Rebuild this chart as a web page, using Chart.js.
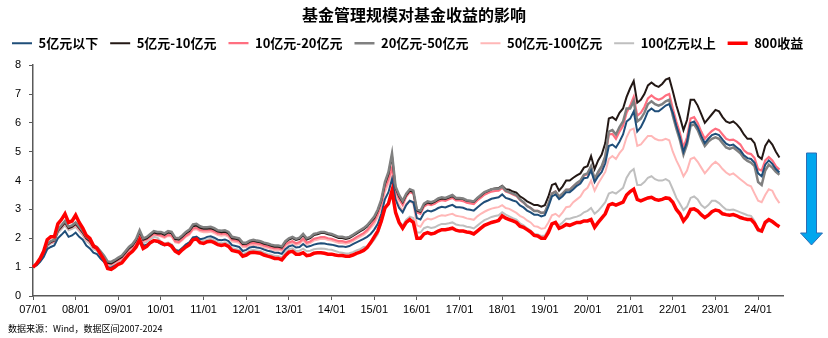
<!DOCTYPE html>
<html>
<head>
<meta charset="utf-8">
<script src="https://cdn.jsdelivr.net/npm/chart.js@4.4.1/dist/chart.umd.min.js"></script>
<style>
  html, body { margin: 0; padding: 0; background: #ffffff; }
  #wrap { width: 828px; height: 338px; position: relative; }
</style>
</head>
<body>
<div id="wrap"><canvas id="chart"></canvas></div>
<script>
// Monthly categories, 2007/01 .. 2024/08 (last month left open on the axis)
const monthLabels = [];
for (let y = 2007; y <= 2024; y++) {
  for (let m = 1; m <= 12; m++) {
    if (y === 2024 && m > 8) break;
    monthLabels.push(String(y % 100).padStart(2, '0') + '/' + String(m).padStart(2, '0'));
  }
}

// Net value by fund size bucket (month-end, start = 1), one row per year
const fundUnder5 = [
  1.00, 1.06, 1.18, 1.35, 1.62, 1.70, 1.75, 2.00, 2.12, 2.25, 2.05, 2.10,
  2.20, 2.05, 1.95, 1.75, 1.65, 1.50, 1.45, 1.30, 1.18, 1.00, 0.98, 1.05,
  1.10, 1.17, 1.32, 1.46, 1.56, 1.72, 1.98, 1.74, 1.78, 1.86, 1.92, 1.88,
  1.80, 1.76, 1.80, 1.76, 1.60, 1.56, 1.66, 1.78, 1.86, 2.03, 2.05, 1.97,
  1.99, 2.05, 2.07, 2.02, 1.95, 1.93, 1.96, 1.90, 1.76, 1.73, 1.70, 1.56,
  1.60, 1.68, 1.71, 1.68, 1.66, 1.61, 1.57, 1.54, 1.50, 1.50, 1.46, 1.62,
  1.72, 1.76, 1.68, 1.70, 1.80, 1.70, 1.73, 1.78, 1.81, 1.83, 1.82, 1.79,
  1.78, 1.75, 1.72, 1.72, 1.70, 1.73, 1.80, 1.86, 1.92, 1.98, 2.05, 2.15,
  2.30, 2.50, 2.85, 3.35, 3.60, 4.05, 3.35, 3.05, 2.90, 3.15, 3.30, 3.25,
  2.70, 2.65, 2.88, 2.96, 2.93, 2.98, 3.05, 3.09, 3.07, 3.12, 3.16, 3.08,
  3.08, 3.06, 3.01, 2.99, 2.96, 3.07, 3.17, 3.26, 3.31, 3.37, 3.40, 3.42,
  3.52, 3.40, 3.36, 3.31, 3.27, 3.14, 3.07, 2.96, 2.90, 2.82, 2.82, 2.76,
  2.80, 3.10, 3.45, 3.52, 3.36, 3.46, 3.60, 3.60, 3.70, 3.82, 3.90, 4.08,
  4.10, 4.35, 3.95, 4.15, 4.30, 4.60, 5.20, 5.25, 5.15, 5.35, 5.60, 6.05,
  6.15, 6.40, 5.70, 5.85, 6.10, 6.40, 6.50, 6.40, 6.40, 6.50, 6.60, 6.65,
  6.35, 5.90, 5.50, 5.00, 5.35, 6.00, 6.05, 5.85, 5.55, 5.30, 5.45, 5.58,
  5.62, 5.58, 5.42, 5.28, 5.22, 5.25, 5.15, 5.05, 4.88, 4.78, 4.75, 4.62,
  4.25, 4.15, 4.55, 4.70, 4.58, 4.40, 4.28
];
const fund5to10 = [
  1.00, 1.09, 1.24, 1.43, 1.77, 1.87, 1.92, 2.26, 2.40, 2.55, 2.35, 2.40,
  2.50, 2.35, 2.20, 2.00, 1.90, 1.70, 1.65, 1.50, 1.35, 1.15, 1.13, 1.20,
  1.28, 1.35, 1.50, 1.65, 1.75, 1.93, 2.22, 1.95, 2.00, 2.10, 2.20, 2.17,
  2.17, 2.12, 2.20, 2.17, 1.97, 1.95, 2.05, 2.17, 2.25, 2.42, 2.44, 2.36,
  2.33, 2.33, 2.35, 2.30, 2.23, 2.21, 2.23, 2.17, 2.00, 1.98, 1.95, 1.80,
  1.81, 1.88, 1.91, 1.88, 1.86, 1.81, 1.78, 1.74, 1.71, 1.71, 1.68, 1.86,
  1.96, 2.01, 1.94, 1.98, 2.11, 1.96, 2.01, 2.11, 2.14, 2.18, 2.18, 2.14,
  2.11, 2.06, 2.01, 2.01, 1.98, 2.01, 2.08, 2.16, 2.24, 2.31, 2.41, 2.56,
  2.70, 2.95, 3.30, 3.88, 4.22, 4.85, 3.74, 3.45, 3.25, 3.50, 3.65, 3.60,
  2.96, 2.91, 3.16, 3.24, 3.21, 3.26, 3.34, 3.38, 3.36, 3.41, 3.46, 3.37,
  3.38, 3.36, 3.30, 3.28, 3.26, 3.38, 3.48, 3.58, 3.64, 3.70, 3.73, 3.74,
  3.82, 3.70, 3.68, 3.62, 3.58, 3.45, 3.38, 3.28, 3.22, 3.15, 3.15, 3.10,
  3.15, 3.45, 3.85, 3.90, 3.65, 3.80, 4.00, 4.00, 4.10, 4.18, 4.25, 4.45,
  4.50, 4.85, 4.40, 4.70, 4.90, 5.30, 6.15, 6.20, 6.10, 6.35, 6.50, 6.90,
  7.20, 7.45, 6.70, 6.80, 7.00, 7.30, 7.40, 7.30, 7.25, 7.35, 7.50, 7.55,
  7.10, 6.60, 6.20, 5.75, 6.10, 6.80, 6.80, 6.60, 6.30, 6.00, 6.15, 6.30,
  6.45, 6.40, 6.20, 6.05, 6.00, 6.05, 5.95, 5.80, 5.60, 5.45, 5.45, 5.30,
  4.85, 4.75, 5.20, 5.40, 5.25, 5.00, 4.80
];
const fund10to20 = [
  1.00, 1.09, 1.23, 1.42, 1.75, 1.85, 1.90, 2.25, 2.40, 2.55, 2.35, 2.40,
  2.48, 2.33, 2.18, 1.98, 1.88, 1.68, 1.63, 1.48, 1.33, 1.12, 1.10, 1.18,
  1.25, 1.32, 1.47, 1.62, 1.72, 1.90, 2.18, 1.92, 1.97, 2.06, 2.15, 2.12,
  2.10, 2.05, 2.12, 2.10, 1.90, 1.87, 1.97, 2.09, 2.17, 2.34, 2.36, 2.29,
  2.27, 2.27, 2.29, 2.24, 2.17, 2.15, 2.17, 2.11, 1.95, 1.93, 1.90, 1.76,
  1.75, 1.82, 1.84, 1.82, 1.80, 1.75, 1.72, 1.68, 1.65, 1.65, 1.62, 1.79,
  1.86, 1.90, 1.83, 1.87, 1.99, 1.85, 1.89, 1.98, 2.01, 2.04, 2.04, 2.00,
  1.98, 1.94, 1.90, 1.90, 1.87, 1.90, 1.96, 2.04, 2.11, 2.18, 2.28, 2.43,
  2.60, 2.85, 3.20, 3.75, 4.05, 4.45, 3.65, 3.35, 3.15, 3.45, 3.60, 3.55,
  2.90, 2.85, 3.10, 3.18, 3.15, 3.20, 3.28, 3.32, 3.30, 3.35, 3.40, 3.31,
  3.31, 3.29, 3.23, 3.21, 3.19, 3.31, 3.41, 3.51, 3.57, 3.62, 3.64, 3.65,
  3.75, 3.62, 3.58, 3.52, 3.47, 3.33, 3.24, 3.12, 3.05, 2.95, 2.95, 2.88,
  2.88, 3.18, 3.55, 3.62, 3.44, 3.55, 3.68, 3.69, 3.80, 3.90, 3.98, 4.18,
  4.22, 4.47, 4.02, 4.27, 4.47, 4.80, 5.60, 5.62, 5.45, 5.70, 5.90, 6.35,
  6.60, 6.90, 6.25, 6.35, 6.55, 6.85, 6.95, 6.85, 6.80, 6.85, 6.95, 7.00,
  6.50, 6.05, 5.65, 5.15, 5.50, 6.15, 6.20, 6.00, 5.70, 5.45, 5.60, 5.72,
  5.80, 5.75, 5.60, 5.45, 5.40, 5.42, 5.35, 5.25, 5.05, 4.95, 4.92, 4.78,
  4.40, 4.35, 4.70, 4.82, 4.70, 4.50, 4.38
];
const fund20to50 = [
  1.00, 1.10, 1.25, 1.45, 1.80, 1.90, 1.95, 2.30, 2.45, 2.60, 2.40, 2.45,
  2.55, 2.40, 2.25, 2.05, 1.95, 1.75, 1.70, 1.55, 1.40, 1.20, 1.18, 1.25,
  1.33, 1.40, 1.55, 1.70, 1.80, 1.98, 2.28, 2.00, 2.05, 2.15, 2.25, 2.22,
  2.22, 2.17, 2.25, 2.22, 2.02, 2.00, 2.10, 2.22, 2.30, 2.48, 2.50, 2.42,
  2.38, 2.38, 2.40, 2.35, 2.28, 2.26, 2.28, 2.22, 2.05, 2.03, 2.00, 1.85,
  1.85, 1.92, 1.95, 1.92, 1.90, 1.85, 1.82, 1.78, 1.75, 1.75, 1.72, 1.90,
  2.00, 2.05, 1.98, 2.02, 2.15, 2.00, 2.05, 2.15, 2.18, 2.22, 2.22, 2.18,
  2.15, 2.10, 2.05, 2.05, 2.02, 2.05, 2.12, 2.20, 2.28, 2.35, 2.45, 2.60,
  2.75, 3.00, 3.35, 3.95, 4.30, 4.95, 3.80, 3.50, 3.30, 3.55, 3.70, 3.65,
  3.00, 2.95, 3.20, 3.28, 3.25, 3.30, 3.38, 3.42, 3.40, 3.45, 3.50, 3.40,
  3.40, 3.38, 3.32, 3.30, 3.28, 3.40, 3.50, 3.60, 3.65, 3.70, 3.72, 3.72,
  3.80, 3.65, 3.60, 3.55, 3.50, 3.35, 3.25, 3.12, 3.05, 2.95, 2.95, 2.88,
  2.90, 3.20, 3.55, 3.62, 3.45, 3.55, 3.68, 3.68, 3.80, 3.92, 4.00, 4.20,
  4.25, 4.50, 4.05, 4.30, 4.50, 4.85, 5.70, 5.75, 5.60, 5.85, 6.05, 6.50,
  6.50, 6.75, 6.05, 6.15, 6.35, 6.65, 6.75, 6.65, 6.60, 6.65, 6.75, 6.80,
  6.25, 5.80, 5.40, 4.90, 5.25, 5.90, 5.95, 5.75, 5.45, 5.20, 5.35, 5.45,
  5.50, 5.45, 5.30, 5.15, 5.10, 5.15, 5.05, 4.95, 4.78, 4.68, 4.62, 4.50,
  3.95, 3.85, 4.35, 4.55, 4.45, 4.30, 4.20
];
const fund50to100 = [
  1.00, 1.09, 1.23, 1.42, 1.76, 1.86, 1.90, 2.24, 2.38, 2.52, 2.33, 2.38,
  2.45, 2.30, 2.15, 1.95, 1.85, 1.66, 1.61, 1.46, 1.31, 1.10, 1.08, 1.16,
  1.23, 1.30, 1.45, 1.60, 1.70, 1.88, 2.15, 1.90, 1.95, 2.03, 2.12, 2.10,
  2.06, 2.01, 2.08, 2.06, 1.86, 1.83, 1.93, 2.05, 2.12, 2.29, 2.31, 2.24,
  2.21, 2.21, 2.23, 2.18, 2.11, 2.09, 2.11, 2.05, 1.89, 1.87, 1.84, 1.70,
  1.69, 1.76, 1.78, 1.76, 1.74, 1.69, 1.66, 1.62, 1.59, 1.59, 1.56, 1.72,
  1.80, 1.84, 1.77, 1.81, 1.93, 1.79, 1.83, 1.92, 1.95, 1.98, 1.98, 1.94,
  1.92, 1.88, 1.84, 1.84, 1.81, 1.84, 1.90, 1.98, 2.05, 2.12, 2.22, 2.36,
  2.50, 2.75, 3.10, 3.60, 3.90, 4.25, 3.45, 3.15, 2.95, 3.20, 3.30, 3.20,
  2.45, 2.40, 2.60, 2.68, 2.65, 2.70, 2.76, 2.80, 2.78, 2.82, 2.85, 2.78,
  2.76, 2.74, 2.69, 2.67, 2.64, 2.76, 2.85, 2.92, 2.98, 3.03, 3.06, 3.08,
  3.15, 3.05, 3.02, 2.95, 2.88, 2.78, 2.72, 2.62, 2.55, 2.42, 2.40, 2.33,
  2.35, 2.55, 2.80, 2.85, 2.75, 2.90, 3.08, 3.10, 3.25, 3.35, 3.45, 3.65,
  3.75, 4.00, 3.65, 3.90, 4.10, 4.30, 4.75, 4.85, 4.75, 4.95, 5.10, 5.50,
  5.75, 5.80, 5.20, 5.25, 5.40, 5.55, 5.55, 5.45, 5.40, 5.40, 5.45, 5.40,
  5.00, 4.70, 4.45, 4.15, 4.35, 4.75, 4.80, 4.65, 4.45, 4.25, 4.40, 4.55,
  4.65, 4.55, 4.40, 4.28, 4.20, 4.25, 4.15, 4.05, 3.95, 3.85, 3.80, 3.55,
  3.30, 3.25, 3.50, 3.70, 3.65, 3.40, 3.22
];
const fundOver100 = [
  1.00, 1.08, 1.22, 1.40, 1.72, 1.82, 1.86, 2.18, 2.32, 2.45, 2.28, 2.33,
  2.40, 2.25, 2.10, 1.90, 1.80, 1.62, 1.57, 1.42, 1.28, 1.07, 1.05, 1.12,
  1.18, 1.25, 1.40, 1.55, 1.65, 1.82, 2.08, 1.83, 1.88, 1.97, 2.05, 2.02,
  1.88, 1.82, 1.85, 1.79, 1.62, 1.56, 1.68, 1.78, 1.86, 2.03, 2.06, 1.94,
  1.90, 1.96, 1.98, 1.93, 1.86, 1.83, 1.86, 1.80, 1.66, 1.63, 1.60, 1.46,
  1.50, 1.58, 1.60, 1.58, 1.56, 1.50, 1.46, 1.43, 1.39, 1.39, 1.34, 1.50,
  1.62, 1.65, 1.56, 1.57, 1.64, 1.55, 1.57, 1.62, 1.64, 1.65, 1.64, 1.61,
  1.60, 1.56, 1.52, 1.50, 1.47, 1.48, 1.52, 1.58, 1.62, 1.70, 1.72, 1.80,
  1.95, 2.15, 2.55, 3.00, 3.20, 3.55, 2.85, 2.55, 2.45, 2.65, 2.75, 2.70,
  2.20, 2.20, 2.35, 2.40, 2.36, 2.38, 2.45, 2.50, 2.50, 2.52, 2.55, 2.48,
  2.45, 2.44, 2.40, 2.38, 2.34, 2.44, 2.54, 2.63, 2.68, 2.74, 2.77, 2.80,
  2.90, 2.82, 2.76, 2.70, 2.65, 2.52, 2.45, 2.35, 2.27, 2.16, 2.13, 2.08,
  2.10, 2.30, 2.48, 2.55, 2.45, 2.55, 2.68, 2.68, 2.72, 2.75, 2.80, 2.90,
  2.95, 3.05, 2.85, 2.95, 3.10, 3.25, 3.55, 3.60, 3.55, 3.65, 3.75, 4.10,
  4.30, 4.40, 3.85, 3.85, 3.95, 4.10, 4.15, 4.05, 4.00, 4.00, 4.05, 3.98,
  3.70, 3.40, 3.20, 2.98, 3.10, 3.40, 3.45, 3.35, 3.15, 3.05, 3.15, 3.30,
  3.30, 3.22, 3.10, 3.00, 2.98, 3.00, 2.95, 2.90, 2.85, 2.80, 2.78, 2.60,
  2.25, 2.22, 2.50, 2.60, 2.55, 2.48, 2.42
];
// CSI 800 index rebased to 1
const csi800 = [
  1.00, 1.12, 1.30, 1.55, 1.95, 2.05, 2.05, 2.50, 2.65, 2.85, 2.55, 2.60,
  2.80, 2.55, 2.35, 2.10, 2.00, 1.75, 1.65, 1.45, 1.25, 0.95, 0.92, 1.00,
  1.10, 1.15, 1.30, 1.45, 1.55, 1.70, 1.95, 1.65, 1.72, 1.85, 1.92, 1.90,
  1.85, 1.78, 1.80, 1.72, 1.55, 1.48, 1.60, 1.70, 1.78, 1.95, 1.98, 1.85,
  1.82, 1.88, 1.90, 1.85, 1.78, 1.75, 1.78, 1.72, 1.58, 1.55, 1.52, 1.38,
  1.42, 1.50, 1.52, 1.50, 1.48, 1.42, 1.38, 1.35, 1.30, 1.30, 1.25, 1.40,
  1.52, 1.55, 1.45, 1.45, 1.50, 1.40, 1.42, 1.48, 1.50, 1.50, 1.48, 1.45,
  1.45, 1.42, 1.40, 1.40, 1.38, 1.38, 1.42, 1.48, 1.52, 1.58, 1.68, 1.85,
  2.05, 2.25, 2.60, 3.05, 3.20, 3.65, 2.90, 2.55, 2.35, 2.55, 2.65, 2.55,
  2.00, 2.00, 2.15, 2.20, 2.15, 2.18, 2.25, 2.30, 2.30, 2.32, 2.35, 2.28,
  2.25, 2.25, 2.22, 2.20, 2.15, 2.25, 2.35, 2.45, 2.50, 2.55, 2.58, 2.62,
  2.78, 2.70, 2.65, 2.60, 2.55, 2.42, 2.38, 2.30, 2.22, 2.10, 2.08, 2.00,
  2.00, 2.20, 2.50, 2.55, 2.35, 2.40, 2.48, 2.45, 2.50, 2.55, 2.55, 2.60,
  2.60, 2.65, 2.38, 2.55, 2.70, 2.85, 3.15, 3.20, 3.15, 3.20, 3.25, 3.50,
  3.62, 3.70, 3.35, 3.30, 3.35, 3.40, 3.42, 3.35, 3.32, 3.35, 3.40, 3.38,
  3.25, 3.00, 2.85, 2.60, 2.75, 3.00, 3.02, 2.95, 2.82, 2.72, 2.80, 2.92,
  2.98, 2.95, 2.85, 2.82, 2.80, 2.82, 2.78, 2.72, 2.68, 2.65, 2.65, 2.52,
  2.30, 2.25, 2.55, 2.65, 2.58, 2.48, 2.40
];

const yTicks = [0, 1, 2, 3, 4, 5, 6, 7, 8];
const seriesNames = ['5亿元以下', '5亿元-10亿元', '10亿元-20亿元', '20亿元-50亿元', '50亿元-100亿元', '100亿元以上', '800收益'];
const chartTitle = '基金管理规模对基金收益的影响';
const sourceNote = '数据来源：Wind，数据区间2007-2024';

const CJK = '"Noto Sans CJK SC", "Noto Sans", sans-serif';
const AXIS = '#595959';

function line(label, data, color, width, order) {
  return {
    label, data, borderColor: color, backgroundColor: color,
    borderWidth: width, pointRadius: 0, pointHoverRadius: 0,
    tension: 0, fill: false, order, xAxisID: 'x', yAxisID: 'y'
  };
}

// Source note and the blue "down" arrow at the right side
const extras = {
  id: 'extras',
  afterDraw(chart) {
    const ctx = chart.ctx;
    const ca = chart.chartArea;
    ctx.save();
    ctx.font = '9px ' + CJK;
    ctx.fillStyle = '#000';
    ctx.textBaseline = 'middle';
    ctx.textAlign = 'left';
    ctx.fillText(sourceNote, 8, 329);

    const cx = ca.right + 28.5;
    ctx.beginPath();
    ctx.moveTo(cx - 5, 153);
    ctx.lineTo(cx + 5, 153);
    ctx.lineTo(cx + 5, 233);
    ctx.lineTo(cx + 11, 233);
    ctx.lineTo(cx, 245);
    ctx.lineTo(cx - 11, 233);
    ctx.lineTo(cx - 5, 233);
    ctx.closePath();
    ctx.fillStyle = '#00A6EE';
    ctx.fill();
    ctx.lineWidth = 1;
    ctx.strokeStyle = '#2E6DB4';
    ctx.stroke();
    ctx.restore();
  }
};

new Chart(document.getElementById('chart'), {
  type: 'line',
  data: {
    labels: monthLabels,
    datasets: [
      line(seriesNames[0], fundUnder5, '#1F4E79', 2, 1),
      line(seriesNames[1], fund5to10, '#231815', 2, 3),
      line(seriesNames[2], fund10to20, '#FF6F80', 2.2, 4),
      line(seriesNames[3], fund20to50, '#808080', 2.5, 2),
      line(seriesNames[4], fund50to100, '#FFB7B7', 2, 5),
      line(seriesNames[5], fundOver100, '#BFBFBF', 2, 6),
      line(seriesNames[6], csi800, '#FF0000', 3.5, 0)
    ]
  },
  options: {
    responsive: true,
    maintainAspectRatio: false,
    animation: false,
    events: [],
    layout: { padding: { left: 0, right: 0, top: 0, bottom: 20 } },
    plugins: {
      title: {
        display: true,
        text: chartTitle,
        color: '#000',
        font: { family: CJK, size: 16, weight: 'bold' },
        padding: { top: 5.5, bottom: 0 }
      },
      legend: {
        display: true,
        align: 'start',
        labels: {
          usePointStyle: true,
          pointStyle: 'line',
          pointStyleWidth: 20,
          padding: 12,
          color: '#000',
          font: { family: CJK, size: 13, weight: 'bold' },
          sort: (a, b) => a.datasetIndex - b.datasetIndex
        }
      },
      tooltip: { enabled: false }
    },
    scales: {
      x: {
        type: 'category',
        offset: false,
        border: { display: true, color: AXIS, width: 1.5 },
        grid: { display: true, drawOnChartArea: false, drawTicks: true, tickLength: 4, color: AXIS, lineWidth: 1 },
        ticks: {
          autoSkip: false,
          maxRotation: 0,
          minRotation: 0,
          padding: 3,
          color: '#000',
          font: { family: '"Liberation Sans", Arial, sans-serif', size: 11 },
          callback(value) {
            const l = this.getLabelForValue(value);
            return l.endsWith('/01') ? l : null;
          }
        },
        afterFit(s) { s.height = 22; }
      },
      xTop: {
        type: 'linear',
        position: 'top',
        display: true,
        grid: { display: false },
        border: { display: false },
        ticks: { display: false },
        afterFit(s) { s.height = 5.5; }
      },
      y: {
        type: 'linear',
        min: 0,
        max: 8,
        afterBuildTicks(s) { s.ticks = yTicks.map(v => ({ value: v })); },
        border: { display: true, color: AXIS, width: 1.5 },
        grid: { display: true, drawOnChartArea: false, drawTicks: true, tickLength: 4, color: AXIS },
        ticks: {
          padding: 8,
          color: '#000',
          font: { family: '"Liberation Sans", Arial, sans-serif', size: 11 }
        },
        afterFit(s) { s.width = 33; }
      },
      yRight: {
        type: 'linear',
        position: 'right',
        display: true,
        grid: { display: false },
        border: { display: false },
        ticks: { display: false },
        afterFit(s) { s.width = 45; }
      }
    }
  },
  plugins: [extras]
});
</script>
</body>
</html>
